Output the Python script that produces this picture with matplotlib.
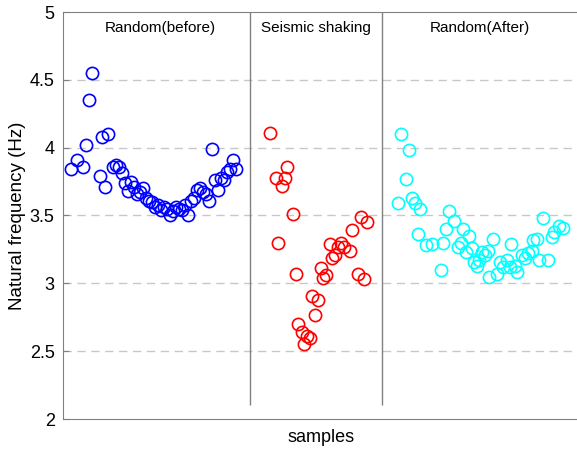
import matplotlib
matplotlib.use('Agg')
import matplotlib.pyplot as plt

plt.rcParams['font.family'] = ['Liberation Sans', 'DejaVu Sans']

# sample positions and natural frequencies (Hz)
before_x = [2.7, 4.7, 6.7, 7.7, 8.7, 9.7, 12.3, 13, 14, 15, 16.7, 17.7, 18.7, 19.7,
            20.7, 21.7, 22.7, 23.7, 24.7, 25.7, 26.7, 27.7, 28.7, 29.7, 30.7, 31.7,
            32.7, 33.7, 34.7, 35.7, 36.7, 37.7, 38.7, 39.7, 40.7, 41.7, 42.7, 43.7,
            44.7, 45.7, 46.7, 47.7, 48.7, 49.7, 50.7, 51.7, 52.7, 53.7, 54.7, 55.7,
            56.7, 57.7]
before_f = [3.84, 3.91, 3.86, 4.02, 4.35, 4.55, 3.79, 4.08, 3.71, 4.10, 3.86, 3.87,
            3.86, 3.81, 3.74, 3.68, 3.75, 3.71, 3.66, 3.67, 3.70, 3.63, 3.61, 3.60,
            3.56, 3.58, 3.54, 3.56, 3.55, 3.50, 3.53, 3.56, 3.55, 3.54, 3.58, 3.50,
            3.61, 3.63, 3.69, 3.70, 3.67, 3.66, 3.61, 3.99, 3.76, 3.69, 3.78, 3.76,
            3.82, 3.84, 3.91, 3.84]

shaking_x = [69, 71, 71.7, 73, 74, 74.7, 76.7, 77.7, 78.3, 79.7, 80.3, 81.3, 82.3,
             83, 84, 85, 86, 86.7, 87.7, 89, 89.7, 90.7, 91.7, 92.7, 93.7, 95.7,
             96.3, 98.3, 99.3, 100.3, 101.3]
shaking_f = [4.11, 3.78, 3.30, 3.72, 3.78, 3.86, 3.51, 3.07, 2.70, 2.64, 2.55, 2.61,
             2.60, 2.91, 2.77, 2.88, 3.11, 3.04, 3.06, 3.29, 3.19, 3.21, 3.27, 3.30,
             3.27, 3.24, 3.39, 3.07, 3.49, 3.03, 3.45]

after_x = [111.7, 112.7, 114.3, 115.3, 116.3, 117.3, 118.3, 119, 121, 123, 126,
           126.7, 127.7, 128.7, 130.3, 131.7, 132.7, 133.3, 134.3, 135.3, 136.3, 137,
           138, 138.7, 139.7, 140.7, 141.7, 142, 143.3, 144.7, 145.7, 146.7, 148, 149,
           149.3, 150.7, 151.3, 153, 154, 155, 156.3, 156.7, 158, 158.7, 160, 161.7,
           163, 163.7, 165.3, 166.7]
after_f = [3.59, 4.10, 3.77, 3.98, 3.63, 3.59, 3.36, 3.55, 3.28, 3.29, 3.10, 3.30,
           3.40, 3.53, 3.46, 3.27, 3.30, 3.40, 3.23, 3.35, 3.26, 3.16, 3.13, 3.17,
           3.23, 3.21, 3.24, 3.05, 3.33, 3.07, 3.16, 3.12, 3.17, 3.12, 3.29, 3.13,
           3.08, 3.21, 3.19, 3.22, 3.24, 3.32, 3.33, 3.17, 3.48, 3.17, 3.34, 3.38,
           3.42, 3.41]

stage_labels = ['Random(before)', 'Seismic shaking', 'Random(After)']
stage_centres = [32.3, 84.3, 139]
stage_bounds = [62.3, 106.3]

fig = plt.figure(figsize=(5.77, 4.5), dpi=100)
ax = fig.add_axes([63 / 577, 31 / 450, 516 / 577, 407 / 450])

mk = dict(marker='o', linestyle='none', markerfacecolor='none',
          markersize=8.8, markeredgewidth=1.2)
ax.plot(before_x, before_f, markeredgecolor='#0000ff', **mk)
ax.plot(shaking_x, shaking_f, markeredgecolor='#ff0000', **mk)
ax.plot(after_x, after_f, markeredgecolor='#00ffff', **mk)

ax.vlines(stage_bounds, 2.1, 5, colors='#808080', linewidth=1)
for lab, xc in zip(stage_labels, stage_centres):
    ax.text(xc, 4.88, lab, ha='center', va='center', fontsize=11)

ax.set_xlim(0, 172)
ax.set_ylim(2, 5)
ax.set_yticks([2, 2.5, 3, 3.5, 4, 4.5, 5])
ax.set_yticklabels(['2', '2.5', '3', '3.5', '4', '4.5', '5'])
ax.set_xticks([])
for y in [2.5, 3, 3.5, 4, 4.5]:
    ax.axhline(y, color='#c8c8c8', linestyle=(0, (6, 4)), linewidth=1, zorder=0)
ax.tick_params(axis='y', direction='in', length=4, color='#808080',
               labelsize=13, pad=6)
for s in ax.spines.values():
    s.set_color('#808080')
ax.set_ylabel('Natural frequency (Hz)', fontsize=13.5, labelpad=3)
ax.set_xlabel('samples', fontsize=13, labelpad=7)

plt.savefig('out.png', dpi=100)
